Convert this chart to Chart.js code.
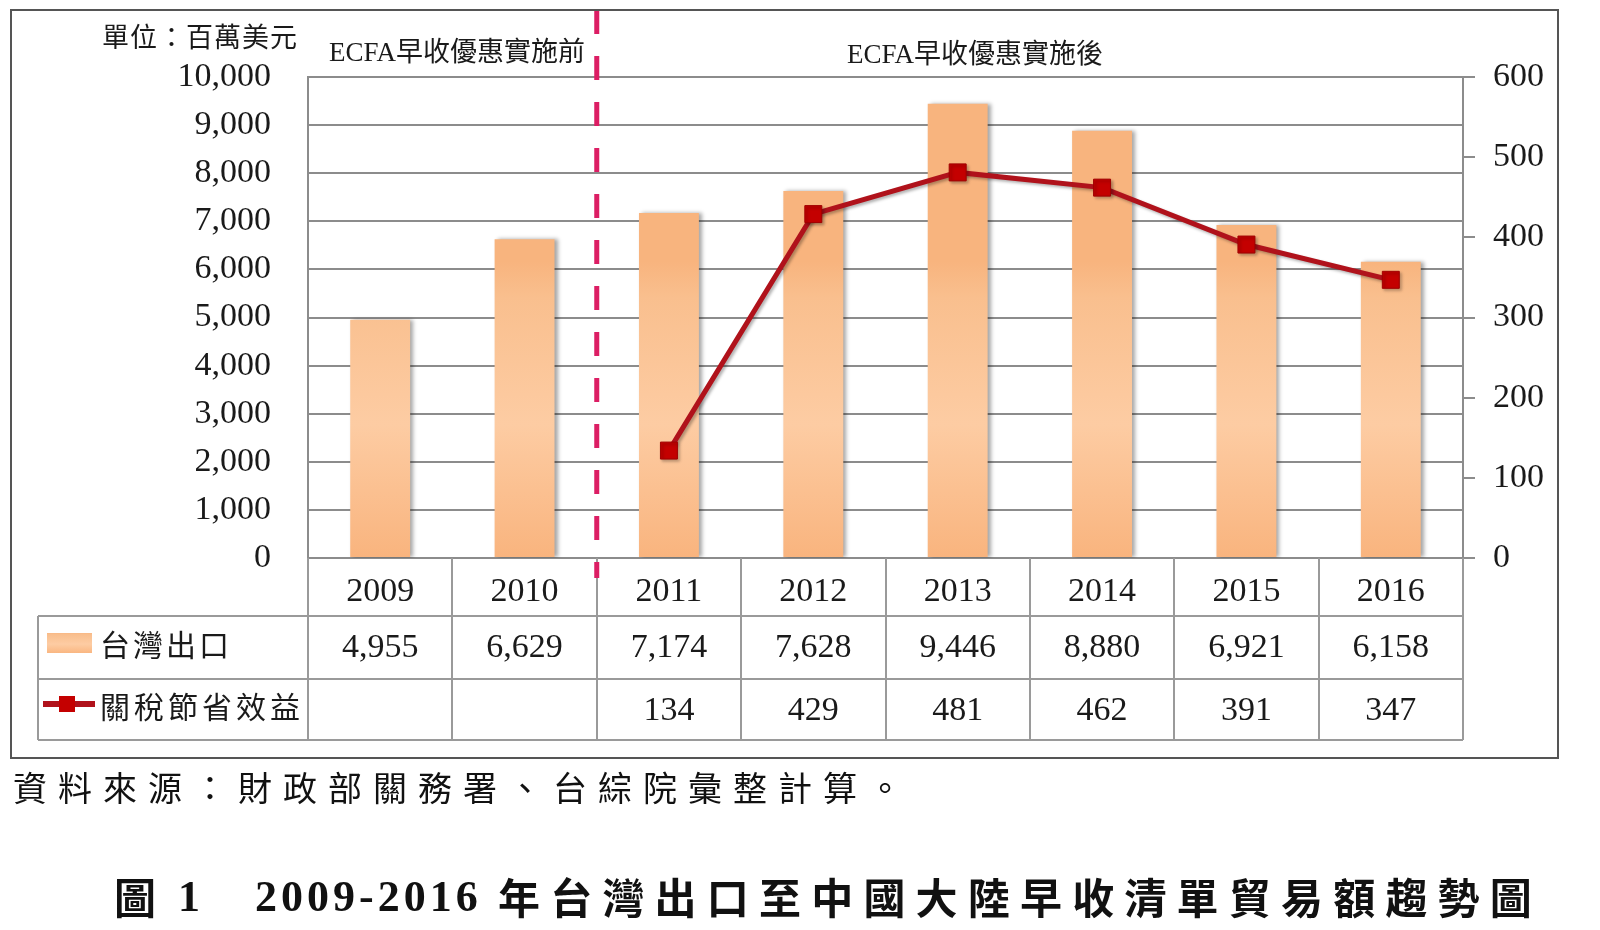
<!DOCTYPE html>
<html>
<head>
<meta charset="utf-8">
<script src="https://cdn.jsdelivr.net/npm/chart.js@4.4.1/dist/chart.umd.min.js"></script>
<style>
  html, body { margin: 0; padding: 0; background: #fff; }
  #wrap { width: 1600px; height: 930px; }
</style>
</head>
<body>
<div id="wrap"><canvas id="ecfaChart" width="1600" height="930"></canvas></div>
<script>
// data
const years = ['2009', '2010', '2011', '2012', '2013', '2014', '2015', '2016'];
const exportValues = [4955, 6629, 7174, 7628, 9446, 8880, 6921, 6158];
const savingValues = [null, null, 134, 429, 481, 462, 391, 347];
const seriesNames = ['台灣出口', '關稅節省效益'];
const leftAxis = { min: 0, max: 10000, step: 1000 };
const rightAxis = { min: 0, max: 600, step: 100 };
const unitText = '單位：百萬美元';
const beforeText = 'ECFA早收優惠實施前';
const afterText = 'ECFA早收優惠實施後';
const sourceText = '資料來源：財政部關務署、台綜院彙整計算。';
const titleNo = '圖';
const titleNum = '1';
const titleYears = '2009-2016';
const titleText = '年台灣出口至中國大陸早收清單貿易額趨勢圖';

const numFont = '"Liberation Serif", "Times New Roman", serif';
const cjkFont = '"Liberation Serif", "Noto Sans CJK TC", sans-serif';
const gridGray = '#8c8c8c';
const tableGray = '#9a9a9a';
const lineRed = '#b0121b';
const markRed = '#c40000';

function barGradient(ctx, top, bottom) {
  const g = ctx.createLinearGradient(0, top, 0, bottom);
  g.addColorStop(0, '#f8b47e');
  g.addColorStop(0.12, '#f9bf8e');
  g.addColorStop(0.55, '#fdcca3');
  g.addColorStop(1, '#f9b47e');
  return g;
}

const extrasPlugin = {
  id: 'extras',
  beforeDatasetDraw(chart, args) {
    const ctx = chart.ctx;
    ctx.save();
    if (args.meta.type === 'bar') {
      args.meta.data.forEach(el => {
        el.options.backgroundColor = barGradient(ctx, el.y, el.base);
      });
      ctx.shadowColor = 'rgba(0,0,0,0.35)';
      ctx.shadowBlur = 4;
      ctx.shadowOffsetX = 3;
      ctx.shadowOffsetY = 0;
    } else {
      ctx.shadowColor = 'rgba(0,0,0,0.3)';
      ctx.shadowBlur = 3;
      ctx.shadowOffsetX = 2;
      ctx.shadowOffsetY = 2;
    }
  },
  afterDatasetDraw(chart) {
    chart.ctx.restore();
  },
  afterDraw(chart) {
    const ctx = chart.ctx;
    const xs = chart.scales.x;
    const area = chart.chartArea;
    const tableLeft = 38;
    const rowTops = [area.bottom, 616, 679, 740];
    const half = (xs.getPixelForValue(1) - xs.getPixelForValue(0)) / 2;

    ctx.save();
    // table lines
    ctx.strokeStyle = tableGray;
    ctx.lineWidth = 2;
    ctx.beginPath();
    for (let r = 1; r < rowTops.length; r++) {
      ctx.moveTo(tableLeft, rowTops[r]);
      ctx.lineTo(area.right, rowTops[r]);
    }
    ctx.moveTo(tableLeft, rowTops[1]);
    ctx.lineTo(tableLeft, rowTops[3]);
    for (let i = 0; i <= years.length; i++) {
      const x = Math.round(xs.getPixelForValue(i) - half);
      ctx.moveTo(x, area.bottom);
      ctx.lineTo(x, rowTops[3]);
    }
    ctx.stroke();

    // table values
    ctx.fillStyle = '#1a1a1a';
    ctx.textAlign = 'center';
    ctx.textBaseline = 'middle';
    ctx.font = '34px ' + numFont;
    years.forEach((y, i) => {
      const x = xs.getPixelForValue(i);
      ctx.fillText(exportValues[i].toLocaleString('en-US'), x, 648);
      if (savingValues[i] != null) ctx.fillText(savingValues[i].toLocaleString('en-US'), x, 711);
    });

    // legend keys inside table
    ctx.fillStyle = barGradient(ctx, 632, 654);
    ctx.fillRect(47, 633, 45, 20);
    ctx.strokeStyle = lineRed;
    ctx.lineWidth = 6;
    ctx.beginPath();
    ctx.moveTo(43, 704);
    ctx.lineTo(95, 704);
    ctx.stroke();
    ctx.fillStyle = markRed;
    ctx.fillRect(59, 696, 16, 16);
    ctx.fillStyle = '#1a1a1a';
    ctx.textAlign = 'left';
    ctx.font = '30px "Noto Sans CJK TC", sans-serif';
    ctx.letterSpacing = '3px';
    ctx.fillText(seriesNames[0], 100, 645);
    ctx.letterSpacing = '4px';
    ctx.fillText(seriesNames[1], 100, 707);

    // unit + period labels
    ctx.letterSpacing = '1px';
    ctx.font = '27px "Noto Sans CJK TC", sans-serif';
    ctx.fillText(unitText, 102, 37);
    ctx.letterSpacing = '0px';
    ctx.font = '27px ' + cjkFont;
    ctx.fillText(beforeText, 329, 54);
    ctx.fillText(afterText, 847, 56);

    // ECFA divider
    const divX = xs.getPixelForValue(1.5);
    ctx.strokeStyle = '#dc1e64';
    ctx.lineWidth = 5;
    ctx.setLineDash([24, 22]);
    ctx.beginPath();
    ctx.moveTo(divX, 10);
    ctx.lineTo(divX, 578);
    ctx.stroke();
    ctx.setLineDash([]);

    // outer frame
    ctx.strokeStyle = '#555';
    ctx.lineWidth = 2;
    ctx.strokeRect(11, 10, 1547, 748);

    // source and caption
    ctx.fillStyle = '#111';
    ctx.font = '34px "Noto Sans CJK TC", sans-serif';
    ctx.letterSpacing = '11px';
    ctx.fillText(sourceText, 13, 788);

    ctx.font = 'bold 42px "Noto Sans CJK TC", sans-serif';
    ctx.letterSpacing = '0px';
    ctx.fillText(titleNo, 114, 898);
    ctx.font = 'bold 44px ' + numFont;
    ctx.fillText(titleNum, 178, 900);
    ctx.letterSpacing = '4px';
    ctx.fillText(titleYears, 255, 900);
    ctx.font = 'bold 42px "Noto Sans CJK TC", sans-serif';
    ctx.letterSpacing = '10.2px';
    ctx.fillText(titleText, 498, 898);
    ctx.restore();
  }
};

new Chart(document.getElementById('ecfaChart'), {
  type: 'bar',
  data: {
    labels: years,
    datasets: [
      {
        type: 'line',
        label: seriesNames[1],
        data: savingValues,
        yAxisID: 'y1',
        order: 0,
        borderColor: lineRed,
        borderWidth: 5,
        pointStyle: 'rect',
        pointRadius: 12,
        pointBackgroundColor: markRed,
        pointBorderColor: '#a00000',
        pointBorderWidth: 1,
        tension: 0
      },
      {
        type: 'bar',
        label: seriesNames[0],
        data: exportValues,
        yAxisID: 'y',
        order: 1,
        backgroundColor: '#fbc08e',
        borderWidth: 0,
        categoryPercentage: 1,
        barPercentage: 0.415
      }
    ]
  },
  options: {
    responsive: false,
    devicePixelRatio: 1,
    animation: false,
    layout: { padding: { top: 77, bottom: 190, left: 0, right: 0 } },
    plugins: {
      legend: { display: false },
      tooltip: { enabled: false }
    },
    scales: {
      x: {
        afterFit: s => { s.height = 182; },
        grid: { display: false },
        border: { display: false },
        ticks: {
          color: '#1a1a1a',
          padding: 6,
          maxRotation: 0,
          font: { family: numFont, size: 34 }
        }
      },
      y: {
        position: 'left',
        min: leftAxis.min,
        max: leftAxis.max,
        afterFit: s => { s.width = 308; },
        border: { display: true, color: gridGray, width: 2 },
        grid: { color: gridGray, lineWidth: 2, drawTicks: false },
        ticks: {
          stepSize: leftAxis.step,
          padding: 37,
          color: '#1a1a1a',
          font: { family: numFont, size: 34 },
          callback: v => v.toLocaleString('en-US')
        }
      },
      y1: {
        position: 'right',
        min: rightAxis.min,
        max: rightAxis.max,
        afterFit: s => { s.width = 137; },
        border: { display: true, color: gridGray, width: 2 },
        grid: { drawOnChartArea: false, color: gridGray, lineWidth: 2, tickLength: 12 },
        ticks: {
          stepSize: rightAxis.step,
          padding: 18,
          color: '#1a1a1a',
          font: { family: numFont, size: 34 }
        }
      }
    }
  },
  plugins: [extrasPlugin]
});
</script>
</body>
</html>
